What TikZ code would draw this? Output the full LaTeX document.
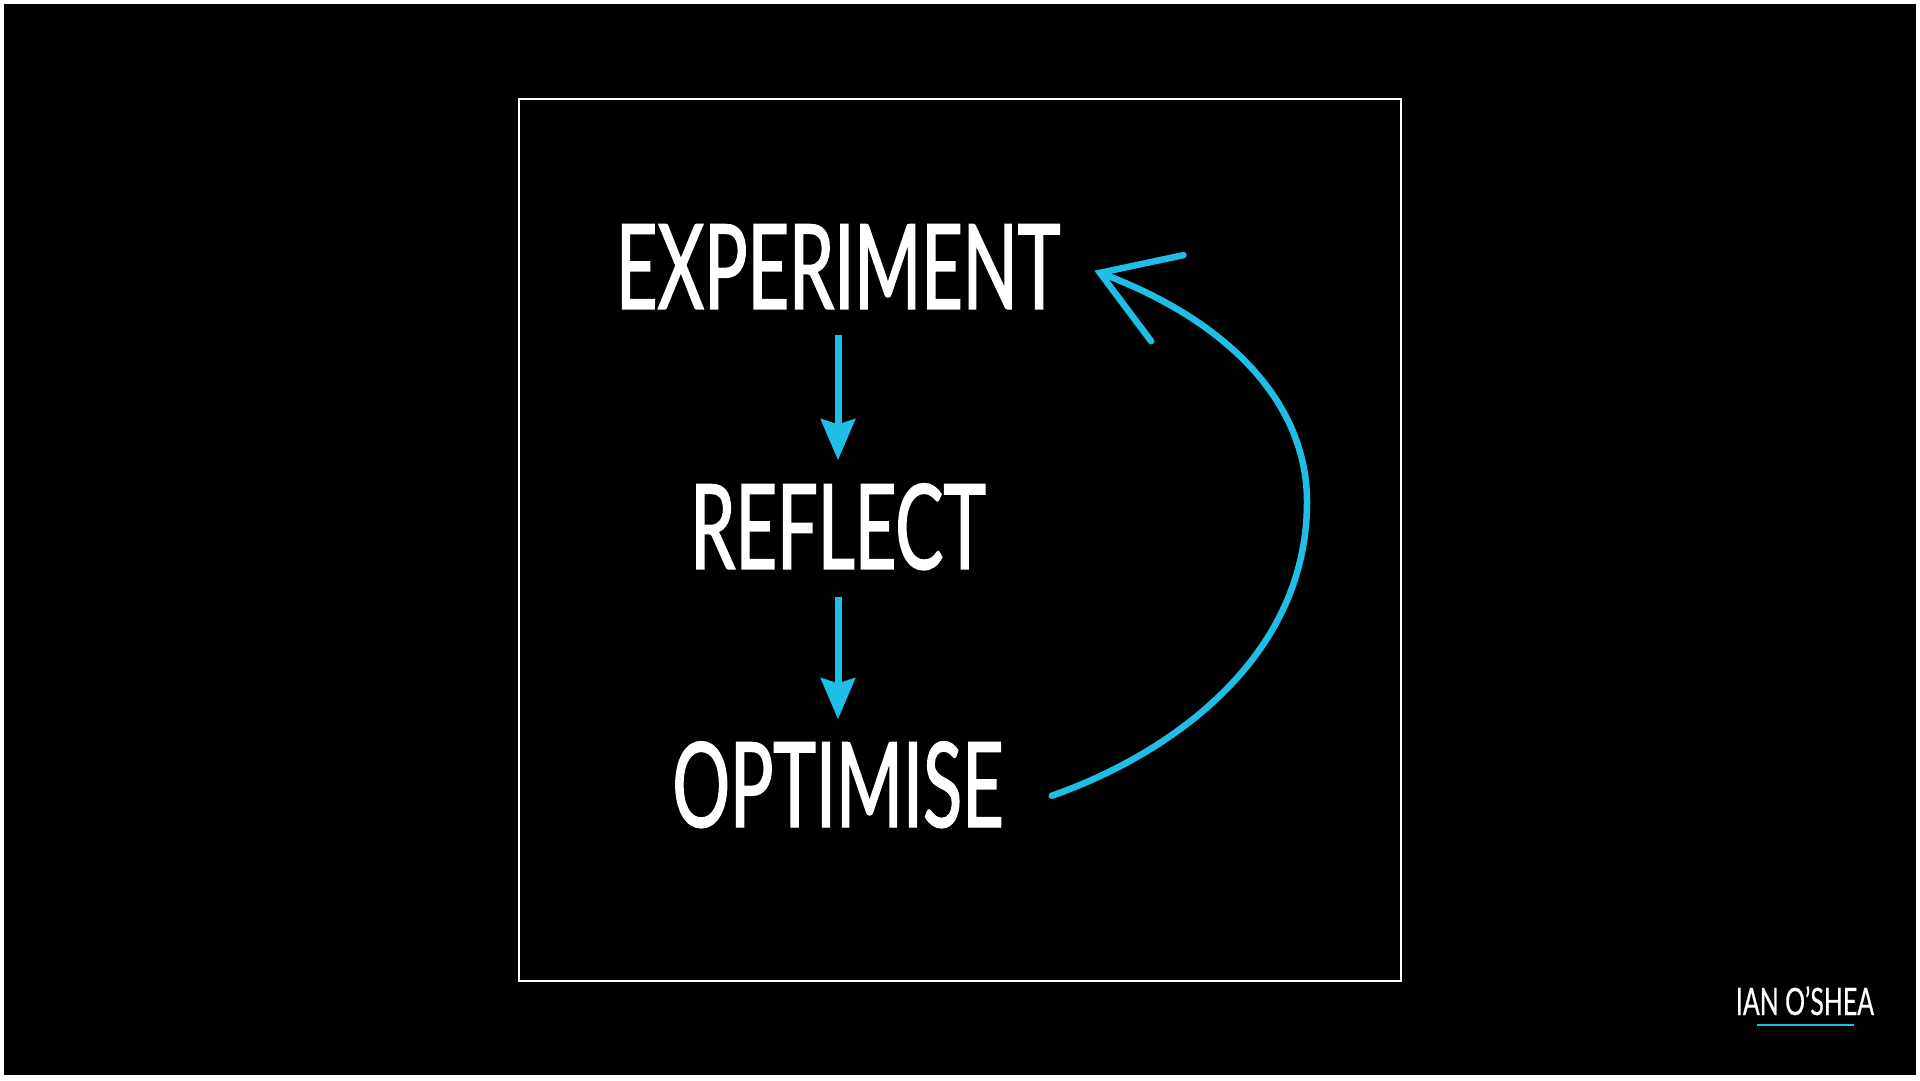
\documentclass[tikz,border=0pt]{standalone}
\usepackage{fontspec}
\usepackage{tikz}
\usetikzlibrary{arrows.meta, positioning}
\newfontfamily\slidefont[FakeStretch=0.61, FakeBold=1.2]{Lato}
\newfontfamily\logofont[FakeStretch=0.66, FakeBold=0.5]{Lato}
\definecolor{cycleblue}{RGB}{30,190,230}
\tikzset{every picture/.style={/utils/exec={\slidefont}}}

\begin{document}
\begin{tikzpicture}[x=1pt, y=1pt, >=Stealth,
    word/.style={text=white, inner sep=0pt, anchor=base, font=\slidefont\fontsize{118}{120}\selectfont},
    flowarrow/.style={->, cycleblue, line width=7pt, >={Stealth[length=41pt, width=34pt, inset=5pt]}},
    backarc/.style={cycleblue, line width=6.5pt, line cap=round, -{Straight Barb[length=72pt, width=92pt, line cap=round]}}]
        % Slide
        \useasboundingbox (0,0) rectangle (1920,1080);
        \fill[white] (0,0) rectangle (1920,1080);
        \fill[black] (4,5) rectangle (1916,1076);
        \draw[white, line width=1.5pt] (519,99) rectangle (1401,981);

        % Nodes
        \node[word] (EXPERIMENT) at (838, 771) {EXPERIMENT};
        \node[word] (REFLECT) at (838, 511) {REFLECT};
        \node[word] (OPTIMISE) at (838, 253) {OPTIMISE};
        \coordinate (bend) at (1307, 578);

        % Directed edges
        \draw[flowarrow] ([yshift=-26pt]EXPERIMENT.south) -- ([yshift=23pt]REFLECT.north);
        \draw[flowarrow] ([yshift=-27pt]REFLECT.south) -- ([yshift=22pt]OPTIMISE.north);
        \draw[backarc] ([shift={(48pt,-11pt)}]OPTIMISE.east)
            .. controls +(115,40) and +(0,-158) .. (bend)
            .. controls +(0,100) and +(133,-50) .. ([shift={(34pt,-4pt)}]EXPERIMENT.east);

        % Logo
        \node[text=white, inner sep=0pt, anchor=base, font=\logofont\fontsize{37.7}{40}\selectfont] (logo) at (1805, 65) {IAN O’SHEA};
        \draw[cycleblue, line width=2pt] ([shift={(21pt,-9pt)}]logo.south west) -- ([shift={(-20pt,-9pt)}]logo.south east);
    \end{tikzpicture}
\end{document}
